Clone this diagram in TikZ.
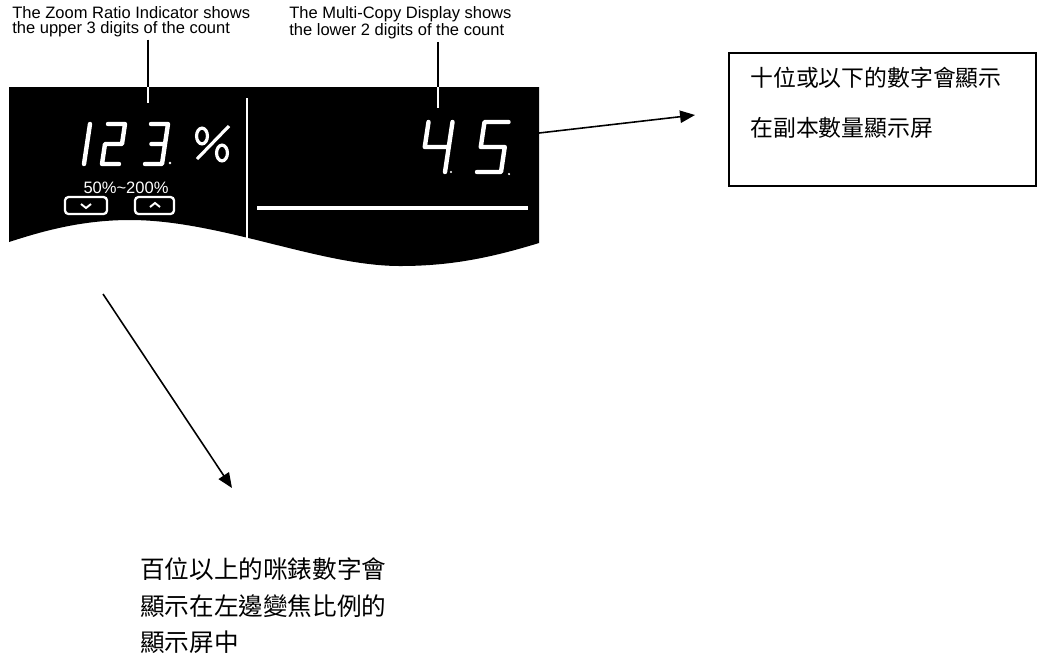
\documentclass[tikz,border=0pt]{standalone}
\usepackage{fontspec}
\setmainfont{Liberation Sans}
\newfontfamily\cjk{Noto Sans CJK TC}
\usetikzlibrary{arrows.meta}

\tikzset{
  note/.style={inner sep=0pt, align=left, font=\fontsize{9.4}{8.4}\selectfont},
  cjknote/.style={inner sep=0pt, align=left, font=\cjk\fontsize{13}{28.3}\selectfont},
  lcd/.style={draw=white, line width=2.5pt, line cap=round, line join=round},
  lead/.style={line width=1.1pt},
  pointer/.style={line width=0.9pt, -{Triangle[length=8.5pt,width=7pt]}},
}

% one slanted seven-segment digit: x, y (bottom left), width, height, strokes
\newcommand{\lcddigit}[5]{%
  \begin{scope}[shift={(#1,#2)}, xslant=0.15, x=#3*0.02cm, y=#4*0.02cm]
    \draw[lcd] #5;
  \end{scope}}

\begin{document}
\begin{tikzpicture}[x=0.02cm, y=-0.02cm]
  \useasboundingbox (0,0) rectangle (1037,654);

  % Display panel
  \fill[black] (9,87) -- (539,87) -- (539,243)
    .. controls (490,258) and (450,266) .. (400,266)
    .. controls (320,266) and (220,220) .. (130,220)
    .. controls (80,220) and (40,232) .. (9,242) -- cycle;
  \draw[white, line width=1.7pt] (247,98) -- (247,240);
  \draw[white, line width=1.8pt] (257,208) -- (528,208);

  % Zoom ratio indicator
  \lcddigit{67}{164}{17}{40}{(1,1)--(1,0)}
  \lcddigit{102}{164}{17}{40}{(0,1)--(1,1)--(1,.5)--(0,.5)--(0,0)--(1,0)}
  \lcddigit{145}{164}{17}{40}{(0,1)--(1,1)--(1,0)--(0,0) (.2,.5)--(1,.5)}
  \fill[white] (170,163) circle (0.8pt);
  \draw[white, line width=1.8pt] (197,159) -- (229,126);
  \draw[white, line width=1.8pt] (202,136) ellipse [x radius=3.1pt, y radius=4.5pt];
  \draw[white, line width=1.8pt] (222,153) ellipse [x radius=3.1pt, y radius=4.5pt];
  \node[note, white] (range) at (126,188) {50\%\textasciitilde200\%};
  \draw[white, line width=1.3pt, rounded corners=2pt] (65,197) rectangle (107,214);
  \draw[white, line width=1.1pt] (81,204) -- (86,208) -- (91,204);
  \draw[white, line width=1.3pt, rounded corners=2pt] (135,197) rectangle (174,214);
  \draw[white, line width=1.1pt] (150,207) -- (155,203) -- (160,207);

  % Multi-copy display
  \lcddigit{421}{172}{24}{50}{(0,1)--(0,.5)--(1,.5) (1,1)--(1,0)}
  \lcddigit{477}{172}{24}{50}{(1,1)--(0,1)--(0,.5)--(1,.5)--(1,0)--(0,0)}
  \fill[white] (451,172) circle (0.7pt);
  \fill[white] (509,174) circle (0.7pt);

  % Captions and leaders
  \node[note, anchor=north west] (zoomtxt) at (12,6)
    {The Zoom Ratio Indicator shows\\the upper 3 digits of the count};
  \node[note, anchor=north west] (copytxt) at (289,6)
    {The Multi-Copy Display shows\\the lower 2 digits of the count};
  \coordinate (zoomedge) at (148,87);
  \coordinate (zoomtip) at (148,103);
  \coordinate (copyedge) at (438,87);
  \coordinate (copytip) at (438,108);
  \draw[lead] ([yshift=-1.5pt]zoomtxt.south -| zoomedge) -- (zoomedge);
  \draw[lead, white] (zoomedge) -- (zoomtip);
  \draw[lead] ([yshift=-1.5pt]copytxt.south -| copyedge) -- (copyedge);
  \draw[lead, white] (copyedge) -- (copytip);

  % Chinese notes
  \node[draw, line width=0.9pt, anchor=north west, minimum width=6.14cm,
    minimum height=2.66cm] (copybox) at (728,52) {};
  \node[cjknote, anchor=north west] (copynote) at (750,67)
    {十位或以下的數字會顯示\\在副本數量顯示屏};
  \node[cjknote, anchor=north west, font=\cjk\fontsize{14}{21}\selectfont]
    (zoomnote) at (140,557)
    {百位以上的咪錶數字會\\顯示在左邊變焦比例的\\顯示屏中};

  \coordinate (copyfrom) at (539,133);
  \coordinate (copyto) at (695,115);
  \coordinate (zoomfrom) at (103,294);
  \coordinate (zoomto) at (232,488);
  \draw[pointer] (copyfrom) -- (copyto);
  \draw[pointer] (zoomfrom) -- (zoomto);
\end{tikzpicture}
\end{document}
